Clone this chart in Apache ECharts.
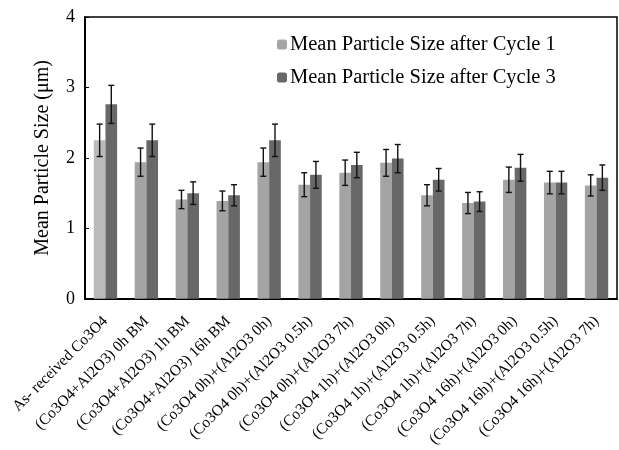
<!DOCTYPE html>
<html>
<head>
<meta charset="utf-8">
<script src="https://cdn.jsdelivr.net/npm/echarts@6/dist/echarts.min.js"></script>
<style>
html, body { margin: 0; padding: 0; background: #fff; }
#chart { width: 619px; height: 450px; }
</style>
</head>
<body>
<div id="chart"></div>
<script>
var categories = [
    'As- received Co3O4',
    '(Co3O4+Al2O3) 0h BM',
    '(Co3O4+Al2O3) 1h BM',
    '(Co3O4+Al2O3) 16h BM',
    '(Co3O4 0h)+(Al2O3 0h)',
    '(Co3O4 0h)+(Al2O3 0.5h)',
    '(Co3O4 0h)+(Al2O3 7h)',
    '(Co3O4 1h)+(Al2O3 0h)',
    '(Co3O4 1h)+(Al2O3 0.5h)',
    '(Co3O4 1h)+(Al2O3 7h)',
    '(Co3O4 16h)+(Al2O3 0h)',
    '(Co3O4 16h)+(Al2O3 0.5h)',
    '(Co3O4 16h)+(Al2O3 7h)'
];
var cycle1 = [2.25, 1.94, 1.41, 1.39, 1.94, 1.62, 1.79, 1.93, 1.47, 1.36, 1.69, 1.65, 1.61];
var cycle3 = [2.76, 2.25, 1.50, 1.47, 2.25, 1.76, 1.90, 1.99, 1.69, 1.38, 1.86, 1.65, 1.72];
var err1 = [0.23, 0.20, 0.13, 0.14, 0.20, 0.17, 0.18, 0.19, 0.15, 0.15, 0.18, 0.16, 0.15];
var err3 = [0.27, 0.23, 0.16, 0.15, 0.23, 0.19, 0.18, 0.20, 0.16, 0.14, 0.19, 0.16, 0.18];
var yTicks = [0, 1, 2, 3, 4];

var seriesNames = ['Mean Particle Size after Cycle 1', 'Mean Particle Size after Cycle 3'];
var lightColor = '#a4a4a4';
var darkColor = '#686868';
var gapRatio = 0.43;
var serif = '"Liberation Serif", "DejaVu Serif", serif';

var myChart = echarts.init(document.getElementById('chart'));

function errData(vals, errs) {
    return vals.map(function (v, i) { return [i, v, errs[i]]; });
}

function errRender(sign) {
    return function (params, api) {
        var i = api.value(0);
        var v = api.value(1);
        var e = api.value(2);
        var band = api.size([1, 0])[0];
        var barW = band * (1 - gapRatio) / 2;
        var top = api.coord([i, v + e]);
        var bot = api.coord([i, v - e]);
        var x = top[0] + sign * barW / 2;
        var cap = 3;
        var st = { stroke: '#111', lineWidth: 1.4 };
        return {
            type: 'group',
            children: [
                { type: 'line', shape: { x1: x, y1: top[1], x2: x, y2: bot[1] }, style: st },
                { type: 'line', shape: { x1: x - cap, y1: top[1], x2: x + cap, y2: top[1] }, style: st },
                { type: 'line', shape: { x1: x - cap, y1: bot[1], x2: x + cap, y2: bot[1] }, style: st }
            ]
        };
    };
}

var option = {
    animation: false,
    backgroundColor: '#fff',
    grid: {
        left: 85, right: 2, top: 17, bottom: 149,
        show: true, borderColor: '#000', borderWidth: 1.5
    },
    legend: {
        orient: 'vertical',
        left: 272, top: 29,
        itemWidth: 10, itemHeight: 10, itemGap: 12,
        data: seriesNames,
        textStyle: { fontFamily: serif, fontSize: 20.5, color: '#000', padding: [0, 0, 0, -2] }
    },
    xAxis: {
        type: 'category',
        data: categories,
        axisLine: { lineStyle: { color: '#000', width: 2 } },
        axisTick: { inside: true, length: 4, lineStyle: { color: '#000' } },
        axisLabel: {
            rotate: 45, interval: 0, margin: 20,
            fontFamily: serif, fontSize: 15.5, color: '#000'
        }
    },
    yAxis: {
        type: 'value',
        min: yTicks[0], max: yTicks[yTicks.length - 1], interval: 1,
        name: 'Mean Particle Size (μm)',
        nameLocation: 'middle',
        nameGap: 32,
        nameTextStyle: { fontFamily: serif, fontSize: 20, color: '#000' },
        splitLine: { show: false },
        axisLine: { show: true, lineStyle: { color: '#000', width: 2 } },
        axisTick: { show: true, inside: true, length: 4, lineStyle: { color: '#000' } },
        axisLabel: { fontFamily: serif, fontSize: 18, color: '#000', margin: 10 }
    },
    series: [
        {
            name: seriesNames[0],
            type: 'bar',
            barGap: '0%',
            barCategoryGap: (gapRatio * 100) + '%',
            itemStyle: { color: lightColor },
            data: cycle1.map(function (v, i) {
                return i === 0 ? { value: v, itemStyle: { color: '#bababa' } } : v;
            })
        },
        {
            name: seriesNames[1],
            type: 'bar',
            barGap: '0%',
            barCategoryGap: (gapRatio * 100) + '%',
            itemStyle: { color: darkColor },
            data: cycle3
        },
        {
            type: 'custom',
            renderItem: errRender(-1),
            encode: { x: 0, y: 1 },
            data: errData(cycle1, err1),
            z: 10
        },
        {
            type: 'custom',
            renderItem: errRender(1),
            encode: { x: 0, y: 1 },
            data: errData(cycle3, err3),
            z: 10
        }
    ]
};
myChart.setOption(option);
</script>
</body>
</html>
